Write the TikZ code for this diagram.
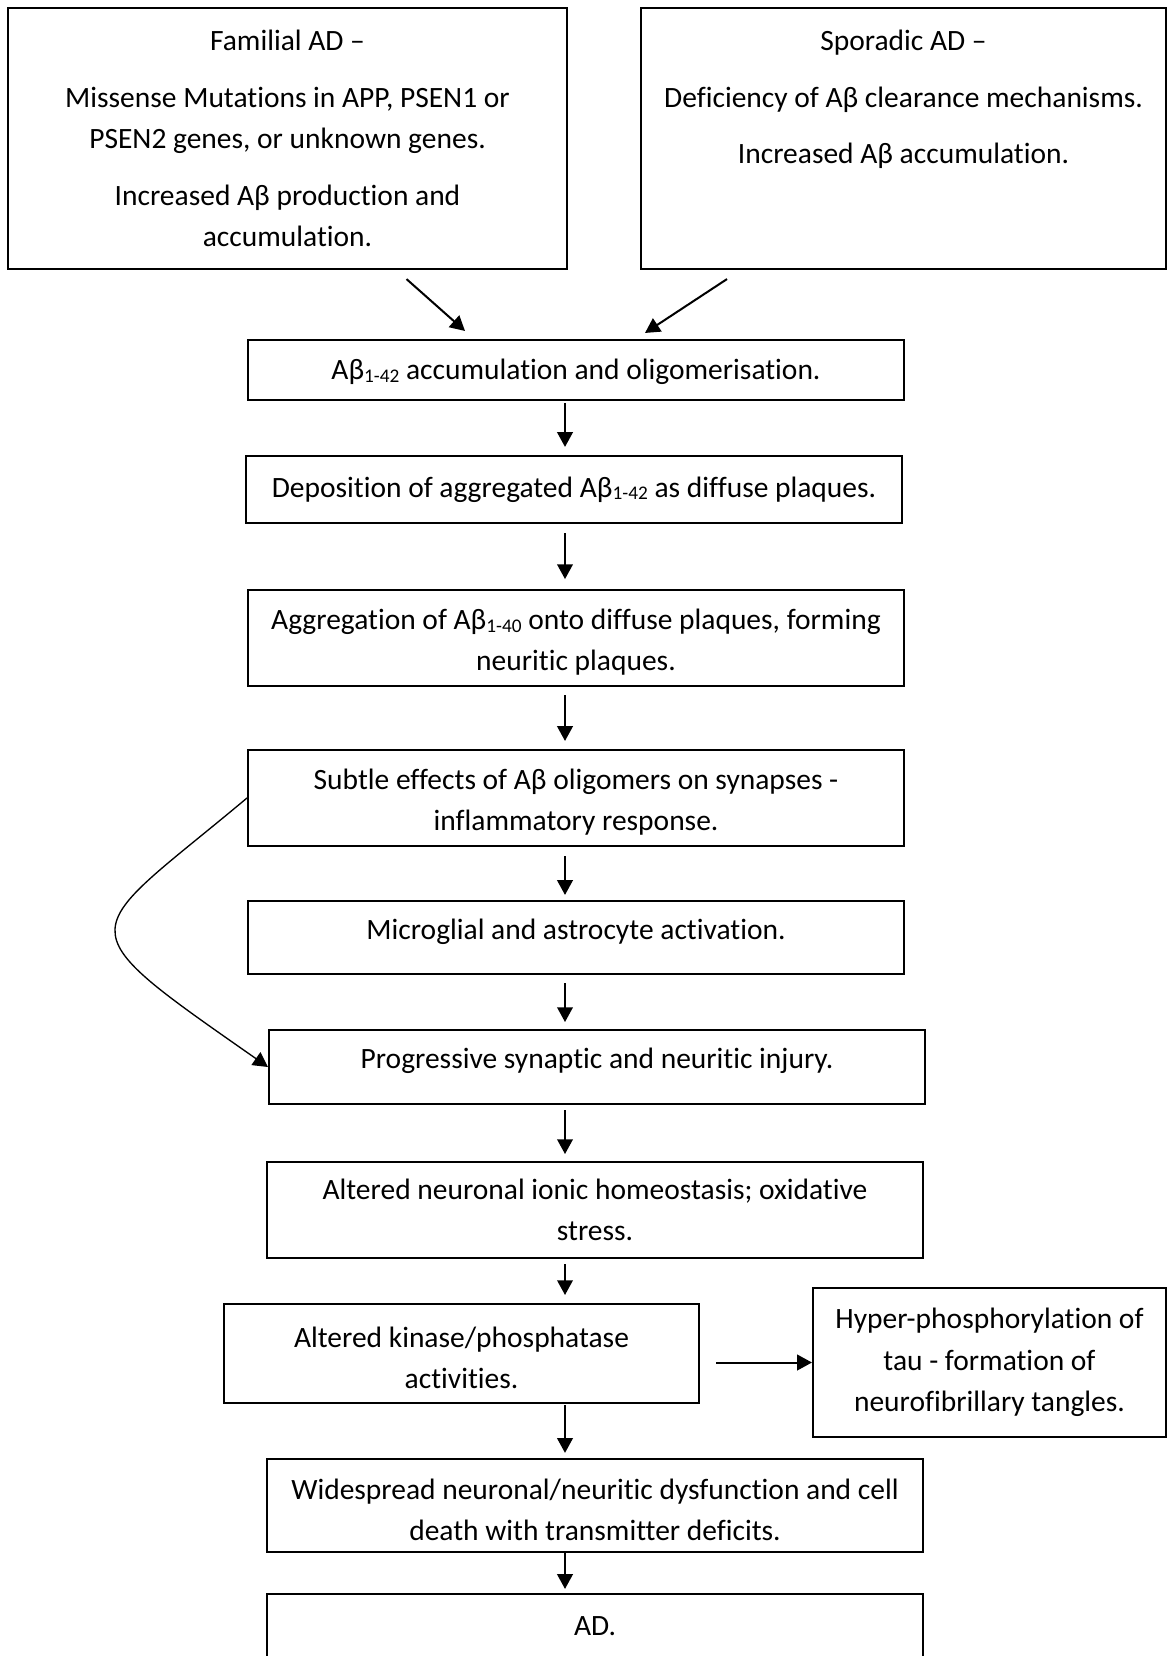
\documentclass[tikz,border=0pt]{standalone}
\usepackage{fontspec}
\setmainfont{Carlito}[Ligatures={TeX,NoCommon}]
\usetikzlibrary{arrows.meta, calc}
\newcommand{\lowidx}[1]{\raisebox{-1pt}{\fontsize{7.2}{8}\selectfont #1}}

\begin{document}
\begin{tikzpicture}[x=0.373pt, y=-0.373pt,
		box/.style={draw, line width=0.75pt, inner sep=0pt, align=center,
			font=\fontsize{11}{15.5}\selectfont},
		onebox/.style={box, text height=#1},
		arr/.style={line width=0.75pt, -{Triangle[length=5.5pt, width=5.8pt]}}]
				\path[use as bounding box, clip] (0,0) rectangle (1168,1656);

				\node[box, minimum width=208.5pt, minimum height=97.4pt] (familial) at (287.5,138.5)
					{Familial AD –\\[5.6pt]Missense Mutations in APP, PSEN1 or\\PSEN2 genes, or unknown genes.\\[5.6pt]Increased Aβ production and\\accumulation.};
				\node[box, minimum width=195.8pt, minimum height=97.4pt] (sporadic) at (903.5,138.5)
					{Sporadic AD –\\[5.6pt]Deficiency of Aβ clearance mechanisms.\\[5.6pt]Increased Aβ accumulation.\\[15.5pt]\mbox{}};

				\node[onebox=14.9pt, text depth=7.5pt, minimum width=244.7pt, minimum height=22.4pt] (accum) at (576,370)
					{Aβ\lowidx{1-42} accumulation and oligomerisation.};
				\node[onebox=15.3pt, text depth=9.7pt, minimum width=244.7pt, minimum height=25pt] (depos) at (574,489.5)
					{Deposition of aggregated Aβ\lowidx{1-42} as diffuse plaques.};
				\node[box, minimum width=244.7pt, minimum height=35.8pt] (aggreg) at (576,638)
					{\strut Aggregation of Aβ\lowidx{1-40} onto diffuse plaques, forming\\neuritic plaques.};
				\node[box, minimum width=244.7pt, minimum height=35.8pt] (subtle) at (576,798)
					{\strut Subtle effects of Aβ oligomers on synapses -\\inflammatory response.};
				\node[onebox=14.5pt, text depth=12.7pt, minimum width=244.7pt, minimum height=27.2pt] (glia) at (576,937.5)
					{Microglial and astrocyte activation.};
				\node[onebox=14.5pt, text depth=13.1pt, minimum width=244.7pt, minimum height=27.6pt] (injury) at (597,1067)
					{Progressive synaptic and neuritic injury.};
				\node[box, minimum width=244.7pt, minimum height=35.8pt] (ionic) at (595,1210)
					{Altered neuronal ionic homeostasis; oxidative\\stress.};
				\node[box, minimum width=177.2pt, minimum height=36.9pt] (kinase) at (461.5,1353.5)
					{\strut Altered kinase/phosphatase\\activities.};
				\node[box, minimum width=131.7pt, minimum height=55.6pt] (tangles) at (989.5,1362.5)
					{Hyper-phosphorylation of\\tau - formation of\\neurofibrillary tangles.};
				\node[box, minimum width=244.7pt, minimum height=34.7pt] (death) at (595,1505.5)
					{\strut Widespread neuronal/neuritic dysfunction and cell\\death with transmitter deficits.};
				\node[onebox=15.3pt, text depth=16.8pt, minimum width=244.7pt, minimum height=32.1pt] (ad) at (595,1637)
					{AD.};

				\draw[arr] ($(familial.south)+(119,9)$) -- ($(accum.north)+(-111,-8)$);
				\draw[arr] ($(sporadic.south)+(-176.5,9)$) -- ($(accum.north)+(69,-6)$);

				\coordinate (spine) at (565,0);
				\draw[arr, shorten <=0.7pt, shorten >=3pt] (accum.south -| spine) -- (depos.north -| spine);
				\draw[arr, shorten <=3.4pt, shorten >=3.7pt] (depos.south -| spine) -- (aggreg.north -| spine);
				\draw[arr, shorten <=3pt, shorten >=3pt] (aggreg.south -| spine) -- (subtle.north -| spine);
				\draw[arr, shorten <=3.4pt, shorten >=1.9pt] (subtle.south -| spine) -- (glia.north -| spine);
				\draw[arr, shorten <=3pt, shorten >=2.6pt] (glia.south -| spine) -- (injury.north -| spine);
				\draw[arr, shorten <=1.9pt, shorten >=2.6pt] (injury.south -| spine) -- (ionic.north -| spine);
				\draw[arr, shorten <=1.9pt, shorten >=3pt] (ionic.south -| spine) -- (kinase.north -| spine);
				\draw[arr, shorten <=0.4pt, shorten >=1.9pt] (kinase.south -| spine) -- (death.north -| spine);
				\draw[arr, shorten >=1.5pt] (death.south -| spine) -- (ad.north -| spine);

				\draw[arr, shorten <=6pt] (kinase.east |- tangles.west) -- (tangles.west);

				\draw[arr, line width=0.5pt] (subtle.west) .. controls +(-167,140) and +(-209,-146) .. (injury.west);
\end{tikzpicture}
\end{document}
